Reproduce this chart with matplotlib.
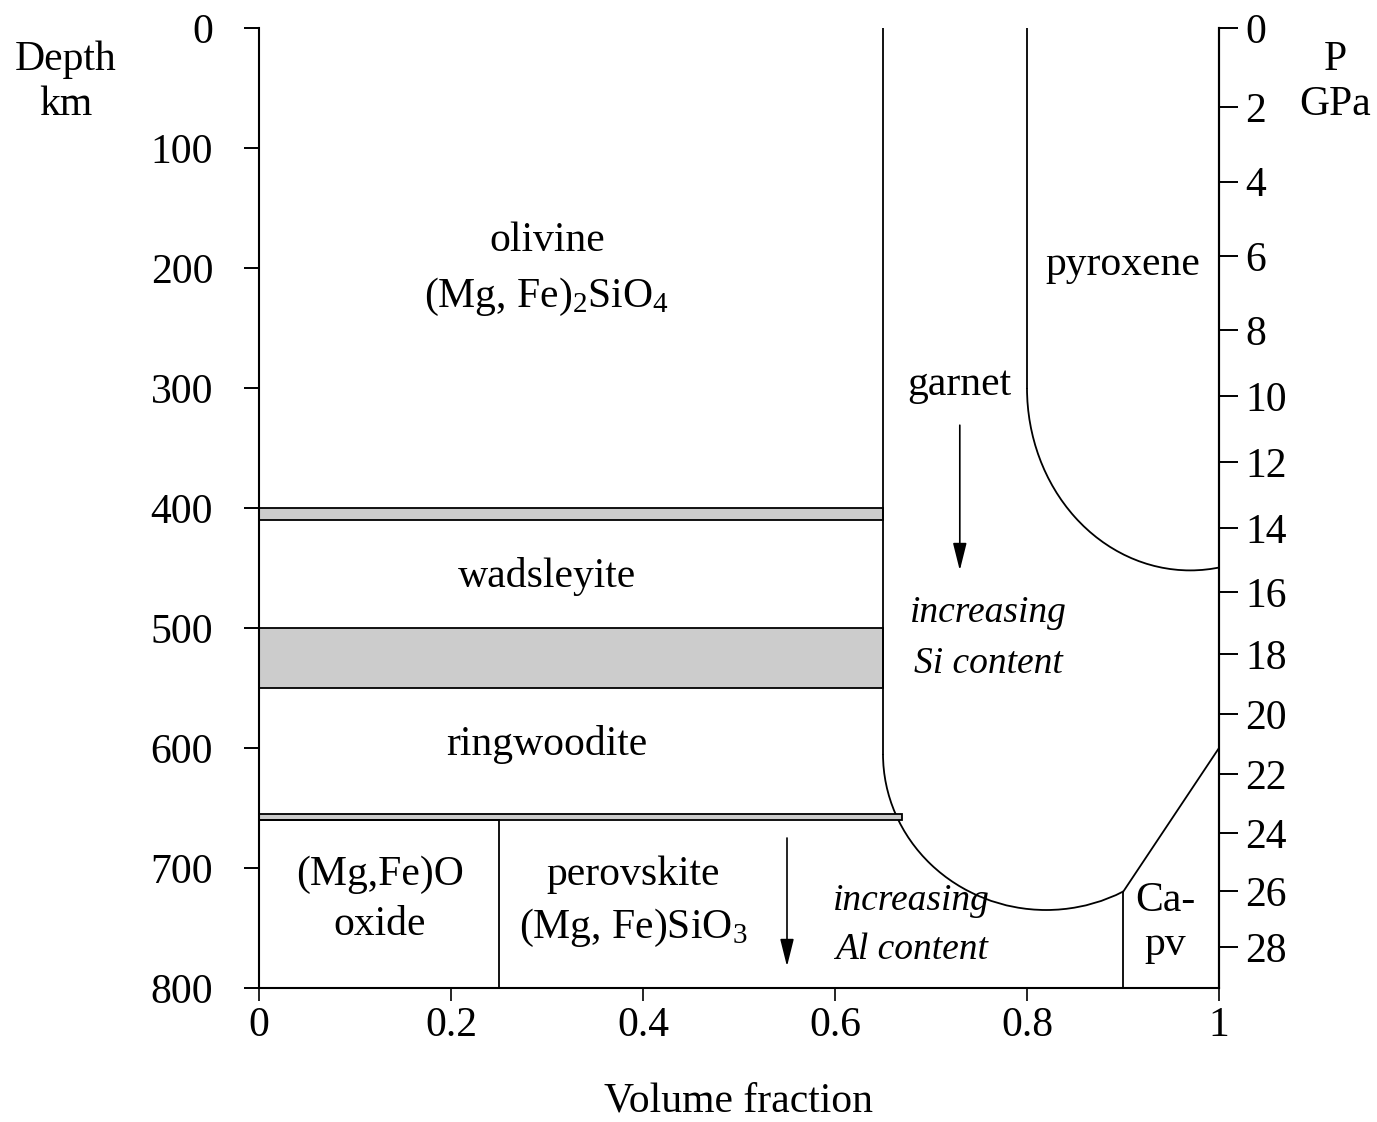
import matplotlib
matplotlib.use("Agg")
import matplotlib.pyplot as plt
from matplotlib.patches import Rectangle, Ellipse

plt.rcParams['font.family'] = ['Liberation Serif', 'DejaVu Serif']
plt.rcParams['mathtext.fontset'] = 'custom'
plt.rcParams['mathtext.rm'] = 'Liberation Serif'
plt.rcParams['mathtext.it'] = 'Liberation Serif:italic'

# depth axis (km) and pressure scale on the right
depth_ticks = [0, 100, 200, 300, 400, 500, 600, 700, 800]
fraction_ticks = [0, 0.2, 0.4, 0.6, 0.8, 1]
fraction_labels = ["0", "0.2", "0.4", "0.6", "0.8", "1"]
pressure_gpa = [0, 2, 4, 6, 8, 10, 12, 14, 16, 18, 20, 22, 24, 26, 28]
pressure_depth_km = [0, 66, 128, 190, 252, 307, 362, 417, 470, 522, 572, 622, 671, 719, 766]

# phase transition bands (grey) in the olivine column
band_top_km = [400, 500, 655]
band_bottom_km = [410, 550, 660]
band_right_frac = [0.65, 0.65, 0.67]

# olivine / garnet boundary
ol_gt_frac = 0.65
ol_gt_bend_km = 605
ol_gt_arc_center = (0.82, 605)
ol_gt_arc_half = (0.17, 130)

# pyroxene / garnet boundary
px_gt_frac = 0.80
px_gt_bend_km = 300
px_gt_arc_center = (0.97, 300)
px_gt_arc_half = (0.17, 152)

# lower mantle
lm_top_km = 660
oxide_frac = 0.25
capv_frac = 0.90
capv_top_km = 720
capv_edge_km = 600

# arrows (x, start depth, end depth)
gt_arrow = (0.73, 331, 452)
pv_arrow = (0.55, 675, 782)

fig = plt.figure(figsize=(13.77, 11.22), dpi=100)
ax = fig.add_axes([259 / 1377, 1 - 988 / 1122, 960 / 1377, 960 / 1122])
ax.set_xlim(0, 1)
ax.set_ylim(800, 0)

lw = 1.3
for top, bot, right in zip(band_top_km, band_bottom_km, band_right_frac):
    ax.add_patch(Rectangle((0, top), right, bot - top, facecolor="#cccccc",
                           edgecolor="black", linewidth=lw, zorder=2))

# olivine-garnet
ax.plot([ol_gt_frac, ol_gt_frac], [0, ol_gt_bend_km], color="black", lw=lw)
e1 = Ellipse(ol_gt_arc_center, 2 * ol_gt_arc_half[0], 2 * ol_gt_arc_half[1],
             fill=False, edgecolor="black", linewidth=lw)
ax.add_patch(e1)
e1.set_clip_path(Rectangle((ol_gt_frac - 0.01, ol_gt_bend_km), capv_frac - ol_gt_frac + 0.01,
                           800 - ol_gt_bend_km, transform=ax.transData))

# pyroxene-garnet
ax.plot([px_gt_frac, px_gt_frac], [0, px_gt_bend_km], color="black", lw=lw)
e2 = Ellipse(px_gt_arc_center, 2 * px_gt_arc_half[0], 2 * px_gt_arc_half[1],
             fill=False, edgecolor="black", linewidth=lw)
ax.add_patch(e2)
e2.set_clip_path(Rectangle((px_gt_frac - 0.01, px_gt_bend_km), 1 - px_gt_frac + 0.01,
                           800 - px_gt_bend_km, transform=ax.transData))

# lower mantle boxes
ax.plot([0, oxide_frac], [lm_top_km, lm_top_km], color="black", lw=lw)
ax.plot([oxide_frac, oxide_frac], [lm_top_km, 800], color="black", lw=lw)
ax.plot([capv_frac, capv_frac], [capv_top_km, 800], color="black", lw=lw)
ax.plot([capv_frac, 1], [capv_top_km, capv_edge_km], color="black", lw=lw)

for x, d0, d1 in (gt_arrow, pv_arrow):
    ax.annotate("", xy=(x, d1), xytext=(x, d0),
                arrowprops=dict(arrowstyle="-|>,head_length=1.2,head_width=0.3",
                                color="black", lw=1.2, mutation_scale=14,
                                shrinkA=0, shrinkB=0))

fs = 30
fsi = 27
ax.text(0.30, 177, "olivine", ha="center", va="center", fontsize=fs)
ax.text(0.30, 224, r"(Mg, Fe)$_2$SiO$_4$", ha="center", va="center", fontsize=fs)
ax.text(0.90, 197, "pyroxene", ha="center", va="center", fontsize=fs)
ax.text(0.73, 297, "garnet", ha="center", va="center", fontsize=fs)
ax.text(0.76, 487, "increasing", ha="center", va="center", fontsize=fsi, style="italic")
ax.text(0.76, 530, "Si content", ha="center", va="center", fontsize=fsi, style="italic")
ax.text(0.30, 457, "wadsleyite", ha="center", va="center", fontsize=fs)
ax.text(0.30, 597, "ringwoodite", ha="center", va="center", fontsize=fs)
ax.text(0.126, 706, "(Mg,Fe)O", ha="center", va="center", fontsize=fs)
ax.text(0.126, 747, "oxide", ha="center", va="center", fontsize=fs)
ax.text(0.39, 706, "perovskite", ha="center", va="center", fontsize=fs)
ax.text(0.39, 750, r"(Mg, Fe)SiO$_3$", ha="center", va="center", fontsize=fs)
ax.text(0.68, 727, "increasing", ha="center", va="center", fontsize=fsi, style="italic")
ax.text(0.68, 768, "Al content", ha="center", va="center", fontsize=fsi, style="italic")
ax.text(0.944, 727, "Ca-", ha="center", va="center", fontsize=fs)
ax.text(0.944, 764, "pv", ha="center", va="center", fontsize=fs)

ax.spines["top"].set_visible(False)
for s in ("left", "right", "bottom"):
    ax.spines[s].set_linewidth(1.5)

ax.set_yticks(depth_ticks)
ax.set_yticklabels([str(d) for d in depth_ticks])
ax.tick_params(axis="y", direction="out", length=11, width=1.4, pad=22, labelsize=fs)
ax.set_xticks(fraction_ticks)
ax.set_xticklabels(fraction_labels)
ax.tick_params(axis="x", direction="out", length=9, width=1.2, pad=4, labelsize=fs)
ax.set_xlabel("Volume fraction", fontsize=fs, labelpad=27)

ax2 = ax.twinx()
ax2.set_ylim(800, 0)
ax2.set_yticks(pressure_depth_km)
ax2.set_yticklabels([str(p) for p in pressure_gpa])
ax2.tick_params(axis="y", direction="out", length=14, width=1.4, pad=5, labelsize=fs)
ax2.spines["top"].set_visible(False)
ax2.spines["left"].set_visible(False)
ax2.spines["bottom"].set_visible(False)
ax2.spines["right"].set_linewidth(1.5)

fig.text(66 / 1377, 1 - 60 / 1122, "Depth", ha="center", va="center", fontsize=fs)
fig.text(66 / 1377, 1 - 105 / 1122, "km", ha="center", va="center", fontsize=fs)
fig.text(1335 / 1377, 1 - 60 / 1122, "P", ha="center", va="center", fontsize=fs)
fig.text(1335 / 1377, 1 - 105 / 1122, "GPa", ha="center", va="center", fontsize=fs)

fig.savefig("out.png", dpi=100)
